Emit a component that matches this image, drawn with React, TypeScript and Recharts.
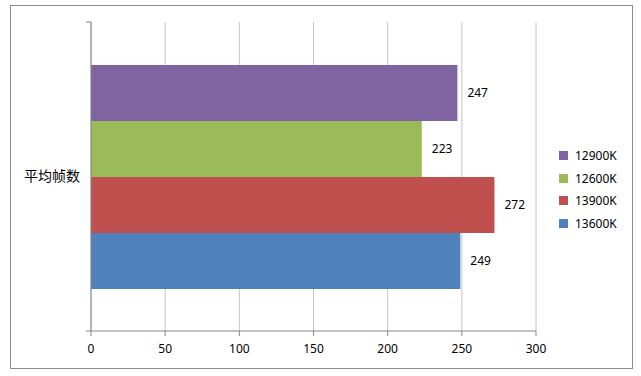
import { BarChart, Bar, XAxis, YAxis, CartesianGrid, LabelList } from "recharts"

const categories = ["平均帧数"]
const cpu12900k = [247]
const cpu12600k = [223]
const cpu13900k = [272]
const cpu13600k = [249]
const xTicks = [0, 50, 100, 150, 200, 250, 300]

const series = [
  { key: "12900K", values: cpu12900k, color: "#8064a2" },
  { key: "12600K", values: cpu12600k, color: "#9bbb59" },
  { key: "13900K", values: cpu13900k, color: "#c0504d" },
  { key: "13600K", values: cpu13600k, color: "#4f81bd" },
]

const data = categories.map((name, i) => {
  const row: Record<string, string | number> = { name }
  series.forEach((s) => {
    row[s.key] = s.values[i]
  })
  return row
})

const font = "'Noto Sans', 'Noto Sans CJK SC', sans-serif"

// category label plus the small tick stubs at the band edges
function CategoryTick(props: any) {
  const { x, y, payload } = props
  const half = payload?.offset ?? 0
  return (
    <g>
      <text x={52} y={y} dy="0.35em" textAnchor="middle" fontSize={14} fill="#000" fontFamily={font}>
        {payload.value}
      </text>
      {half > 0 && (
        <>
          <line x1={x - 5} x2={x} y1={y - half} y2={y - half} stroke="#868686" />
          <line x1={x - 5} x2={x} y1={y + half} y2={y + half} stroke="#868686" />
        </>
      )}
    </g>
  )
}

function ChartLegend() {
  return (
    <div style={{ position: "absolute", left: 559, top: 144, fontFamily: font, fontSize: 12, color: "#000" }}>
      {series.map((s) => (
        <div key={s.key} style={{ display: "flex", alignItems: "center", height: 22.7 }}>
          <span style={{ width: 9, height: 9, background: s.color, marginRight: 7, display: "inline-block" }} />
          <span>{s.key}</span>
        </div>
      ))}
    </div>
  )
}

export default function App() {
  return (
    <div style={{ position: "absolute", left: 0, top: 0, width: 641, height: 376, background: "#fff" }}>
      <div
        style={{
          position: "absolute",
          left: 10,
          top: 5,
          width: 623,
          height: 364,
          border: "1px solid #8c8c8c",
          boxSizing: "border-box",
        }}
      />
      <div style={{ position: "absolute", left: 0, top: 0 }}>
        <BarChart
          width={641}
          height={376}
          data={data}
          layout="vertical"
          margin={{ top: 22, right: 105, left: 11, bottom: 15 }}
          barSize={56}
          barGap={0}
        >
          <CartesianGrid horizontal={false} stroke="#c4c4c4" />
          <XAxis
            type="number"
            domain={[0, 300]}
            ticks={xTicks}
            interval={0}
            height={30}
            tickSize={5}
            tickMargin={8}
            stroke="#868686"
            tick={{ fill: "#000", fontSize: 12, fontFamily: font }}
          />
          <YAxis
            type="category"
            dataKey="name"
            width={80}
            stroke="#868686"
            tickLine={false}
            tickSize={0}
            tickMargin={0}
            tick={<CategoryTick />}
          />
          {series.map((s) => (
            <Bar key={s.key} dataKey={s.key} fill={s.color} isAnimationActive={false}>
              <LabelList
                dataKey={s.key}
                position="right"
                offset={10}
                fill="#000"
                fontSize={12}
                fontFamily={font}
              />
            </Bar>
          ))}
        </BarChart>
      </div>
      <ChartLegend />
    </div>
  )
}
